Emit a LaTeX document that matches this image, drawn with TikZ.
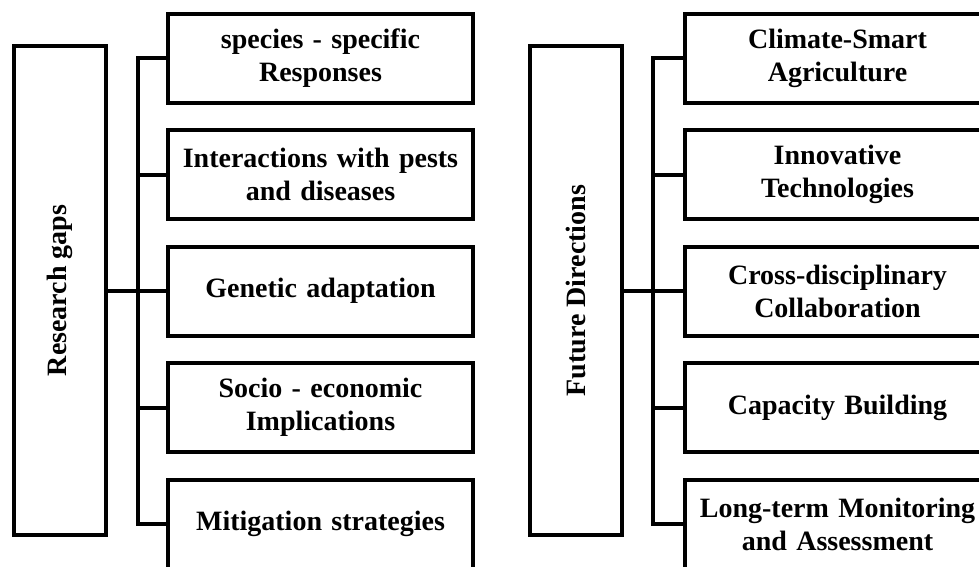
\documentclass[tikz,border=0pt]{standalone}
\usepackage{fontspec}
\setmainfont{Liberation Serif}
\usepackage{tikz}
\usetikzlibrary{positioning}

\begin{document}
\begin{tikzpicture}[x=1pt,y=-1pt,line width=4pt,
  every node/.style={font=\fontsize{28}{33}\selectfont\bfseries},
  mainbox/.style={rectangle,draw,minimum width=92pt,minimum height=489pt,inner sep=0pt},
  itembox/.style={rectangle,draw,minimum width=305pt,minimum height=89pt,
    text width=295pt,align=center,inner sep=0pt}]
  \useasboundingbox (0,0) rectangle (979,566);
  \clip (0,0) rectangle (979,566);
  % research gaps
  \node[mainbox] (gaps) at (60,290.5) {\rotatebox{90}{Research gaps}};
  \coordinate (gapsbus) at (138,0);
  \node[itembox] (g1) at (320.5,58) {species - specific\\Responses};
  \node[itembox,below=23.5pt of g1] (g2) {Interactions with pests\\and diseases};
  \node[itembox,below=23.5pt of g2] (g3) {Genetic adaptation};
  \node[itembox,below=23.5pt of g3] (g4) {Socio - economic\\Implications};
  \node[itembox,below=23.5pt of g4] (g5) {Mitigation strategies};
  \draw (gaps.east |- g3.west) -- (g3.west -| gapsbus);
  \draw (g1.west) -- (g1.west -| gapsbus) -- (g5.west -| gapsbus) -- (g5.west);
  \foreach \i in {2,3,4}
    \draw (g\i.west) -- (g\i.west -| gapsbus);
  % future directions
  \node[mainbox] (future) at (575.5,290.5) {\rotatebox{90}{Future Directions}};
  \coordinate (futurebus) at (653,0);
  \node[itembox] (f1) at (837.5,58) {Climate-Smart\\Agriculture};
  \node[itembox,below=23.5pt of f1] (f2) {Innovative\\Technologies};
  \node[itembox,below=23.5pt of f2] (f3) {Cross-disciplinary\\Collaboration};
  \node[itembox,below=23.5pt of f3] (f4) {Capacity Building};
  \node[itembox,below=23.5pt of f4] (f5) {Long-term Monitoring\\and Assessment};
  \draw (future.east |- f3.west) -- (f3.west -| futurebus);
  \draw (f1.west) -- (f1.west -| futurebus) -- (f5.west -| futurebus) -- (f5.west);
  \foreach \i in {2,3,4}
    \draw (f\i.west) -- (f\i.west -| futurebus);
\end{tikzpicture}
\end{document}
